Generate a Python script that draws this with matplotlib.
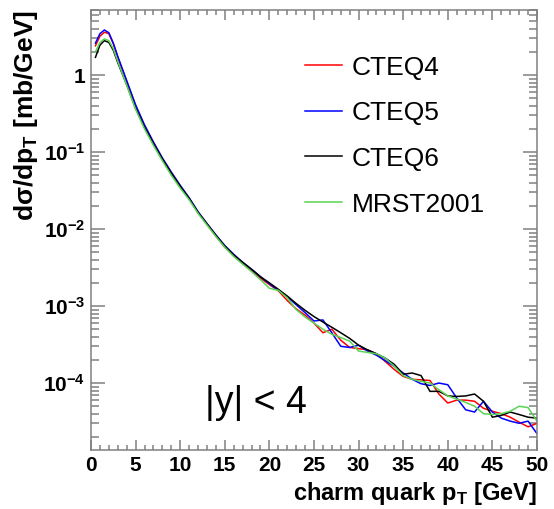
"""plot.py
Charm quark pT spectrum for several PDF sets, ROOT style.
"""

import math
import matplotlib
matplotlib.use("Agg")
import matplotlib.pyplot as plt
from matplotlib.lines import Line2D
from matplotlib.ticker import FixedLocator, FuncFormatter, MultipleLocator

plt.rcParams["font.family"] = ["Liberation Sans", "DejaVu Sans"]
plt.rcParams["mathtext.fontset"] = "custom"
plt.rcParams["mathtext.rm"] = "Liberation Sans"
plt.rcParams["mathtext.bf"] = "Liberation Sans:bold"

# charm quark pT [GeV]
pt = [0.5, 1, 1.5, 2, 2.5, 3, 4, 5, 6, 7, 8, 9, 10, 11, 12, 13, 14, 15, 16,
      17, 18, 19, 20, 21, 22, 23, 24, 25, 26, 27, 28, 29, 30, 31, 32, 33,
      34, 35, 36, 37, 38, 39, 40, 41, 42, 43, 44, 45, 46, 47, 48, 49, 50]

# dsigma/dpT [mb/GeV]
cteq4 = [2.4, 3.2, 3.6, 3.45, 2.55, 1.7, 0.82, 0.40, 0.22, 0.132, 0.082,
         0.054, 0.036, 0.025, 0.0163, 0.0115, 0.0081, 0.0058, 0.0045,
         0.0036, 0.0029, 0.0023, 0.0019, 0.00158, 0.00118, 0.00092,
         0.00076, 0.00060, 0.00045, 0.00050, 0.00036, 0.00029, 0.00028,
         0.00027, 0.00024, 0.00019, 0.000150, 0.000122, 0.000112, 0.000110,
         0.000108, 0.000072, 0.000055, 0.000060, 0.000060, 0.000058,
         0.000047, 0.000043, 0.000040, 0.000036, 0.000031, 0.000027,
         0.000030]
cteq5 = [2.6, 3.45, 3.85, 3.55, 2.6, 1.75, 0.85, 0.41, 0.225, 0.135, 0.084,
         0.055, 0.037, 0.0255, 0.0168, 0.0118, 0.0084, 0.0061, 0.0047,
         0.0037, 0.0030, 0.0024, 0.00195, 0.0016, 0.00132, 0.00104,
         0.00082, 0.00064, 0.00066, 0.00045, 0.00030, 0.00029, 0.00031,
         0.00026, 0.00023, 0.000195, 0.000165, 0.000135, 0.000112, 0.000098,
         0.000093, 0.000100, 0.000095, 0.000064, 0.000045, 0.000042,
         0.000058, 0.000042, 0.000035, 0.000032, 0.000030, 0.000032,
         0.000022]
cteq6 = [1.7, 2.45, 2.8, 2.65, 2.1, 1.45, 0.75, 0.37, 0.21, 0.128, 0.081,
         0.053, 0.036, 0.025, 0.0165, 0.0117, 0.0083, 0.0060, 0.0046,
         0.0037, 0.0030, 0.0024, 0.0020, 0.00165, 0.00135, 0.00108,
         0.00088, 0.00073, 0.00062, 0.00053, 0.00045, 0.00038, 0.00031,
         0.00027, 0.00024, 0.00021, 0.000175, 0.000130, 0.000135, 0.000125,
         0.000078, 0.000078, 0.000068, 0.000067, 0.000068, 0.000072,
         0.000058, 0.000036, 0.000038, 0.000042, 0.000039, 0.000036,
         0.000035]
mrst2001 = [2.0, 2.65, 2.95, 2.8, 2.2, 1.5, 0.74, 0.36, 0.20, 0.122, 0.077,
            0.050, 0.034, 0.024, 0.0160, 0.0113, 0.0080, 0.0058, 0.0044,
            0.0035, 0.0028, 0.0022, 0.0017, 0.0016, 0.00128, 0.00090,
            0.00072, 0.00060, 0.00050, 0.00043, 0.00039, 0.00035, 0.00026,
            0.00025, 0.00024, 0.00021, 0.000165, 0.000125, 0.000112,
            0.000105, 0.000100, 0.000082, 0.000068, 0.000062, 0.000056,
            0.000050, 0.000040, 0.000039, 0.000040, 0.000043, 0.000050,
            0.000048, 0.000032]

labels = ["CTEQ4", "CTEQ5", "CTEQ6", "MRST2001"]
colors = ["#ff0000", "#0000ff", "#000000", "#59d454"]
series = [cteq4, cteq5, cteq6, mrst2001]

W, H = 554, 509
fig = plt.figure(figsize=(W / 100, H / 100), dpi=100)
ax = fig.add_axes([91 / W, 1 - 450 / H, (537 - 91) / W, (450 - 10) / H])

for y, c in zip(series, colors):
    ax.plot(pt, y, color=c, lw=1.1)

ax.set_yscale("log")
ax.set_xlim(0, 50)
ax.set_ylim(1.35e-5, 7)

grey = "#808080"
for s in ax.spines.values():
    s.set_color(grey)
    s.set_linewidth(1.1)

ax.xaxis.set_major_locator(MultipleLocator(5))
ax.xaxis.set_minor_locator(MultipleLocator(1))
ax.yaxis.set_major_locator(FixedLocator([1e-4, 1e-3, 1e-2, 1e-1, 1]))
ax.yaxis.set_minor_locator(FixedLocator(
    [m * 10.0 ** e for e in range(-5, 1) for m in range(2, 10)]))


def ylab(v, pos):
    if abs(v - 1) < 1e-9:
        return "1"
    return r"$\mathbf{10^{%d}}$" % int(round(math.log10(v)))


ax.yaxis.set_major_formatter(FuncFormatter(ylab))
ax.tick_params(which="both", direction="in", top=True, right=True,
               color=grey, width=1.1, labelsize=15)
ax.tick_params(axis="x", which="major", length=7.2, pad=4)
ax.tick_params(axis="x", which="minor", length=3.6)
ax.tick_params(axis="y", which="major", length=10, pad=4)
ax.tick_params(axis="y", which="minor", length=5.8)
for t in ax.get_xticklabels() + ax.get_yticklabels():
    t.set_fontweight("bold")

fig.text(537 / W, 1 - 500 / H, r"charm quark p$_\mathbf{T}$ [GeV]",
         ha="right", va="baseline", fontsize=17, fontweight="bold")
fig.text(26 / W, 1 - 10 / H, "dσ/dp$_\\mathbf{T}$ [mb/GeV]",
         rotation=90, ha="center", va="top", fontsize=19, fontweight="bold")

# legend, drawn by hand in ROOT layout
for i, (lab, c) in enumerate(zip(labels, colors)):
    yp = 65 + 45.7 * i
    fig.add_artist(Line2D([305 / W, 342 / W], [1 - yp / H] * 2, color=c, lw=1.1))
    fig.text(352 / W, 1 - (yp + 9.5) / H, lab, ha="left", va="baseline",
             fontsize=19)

fig.text(205 / W, 1 - 413 / H, "|y| < 4", ha="left", va="baseline", fontsize=27)

fig.savefig("out.png", dpi=100, facecolor="white")
